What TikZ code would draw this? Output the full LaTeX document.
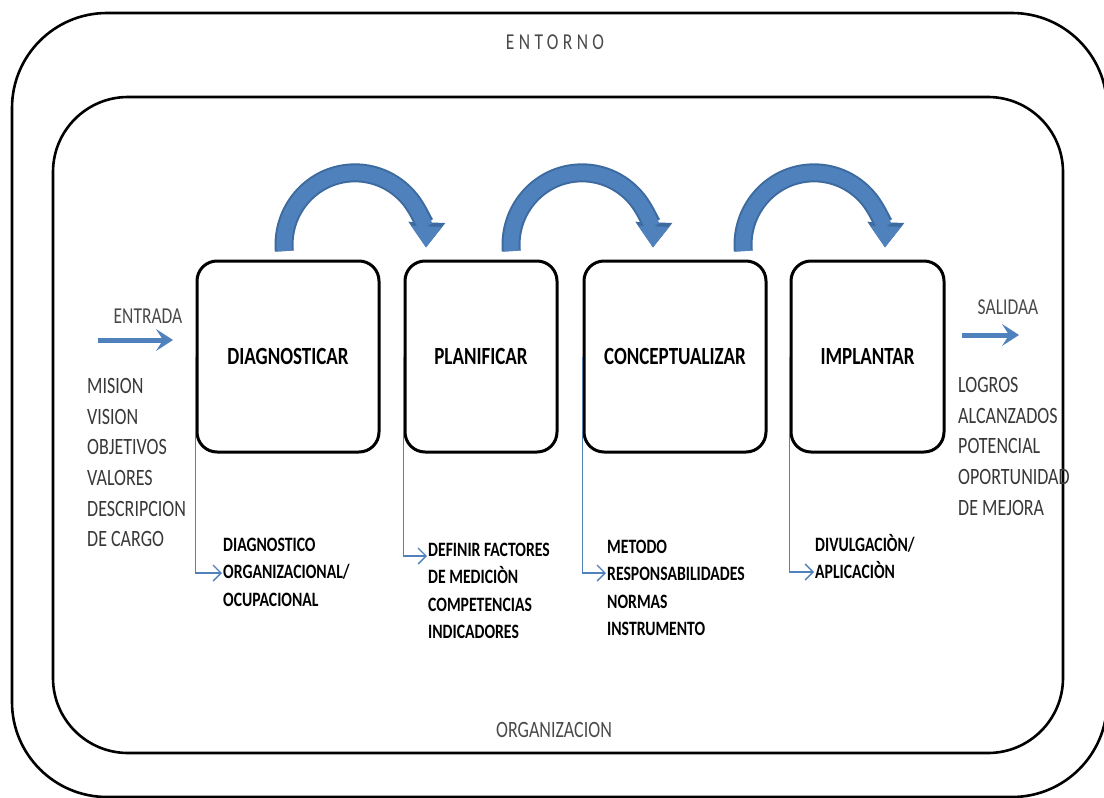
\documentclass[tikz,border=0pt]{standalone}
\usepackage{fontspec}
\setmainfont{Carlito}
\usepackage{graphicx}
\usetikzlibrary{arrows.meta}
\definecolor{flowblue}{HTML}{4F81BD}
\definecolor{flowedge}{HTML}{3D6B9F}
\definecolor{listgray}{HTML}{383838}
\definecolor{labelgray}{HTML}{4A4A4A}
% condensed look: stretch text vertically
\newcommand{\tallbox}[1]{\scalebox{1}[1.3]{#1}}
\newcommand{\lines}[1]{\tallbox{\begin{tabular}[t]{@{}l@{}}#1\end{tabular}}}

\begin{document}
\begin{tikzpicture}[x=1pt,y=-1pt,
  frame/.style={draw=black, line width=2.6pt},
  stepbox/.style={draw=black, line width=3pt, rounded corners=20pt,
    minimum height=191pt, inner sep=0pt,
    font=\fontsize{19}{19}\selectfont\bfseries},
  listtext/.style={anchor=base west, inner sep=0pt, text=listgray,
    font=\fontsize{18}{23.6}\selectfont},
  boldlist/.style={anchor=base west, inner sep=0pt, text=black,
    font=\fontsize{15.7}{21}\selectfont\bfseries},
  caption/.style={inner sep=0pt, text=labelgray, font=\fontsize{17.5}{17.5}\selectfont},
  flow/.style={draw=flowblue, line width=1.4pt,
    -{Straight Barb[length=8pt,width=16pt]}},
  bigarrow/.style={draw=flowblue, line width=5pt,
    -{Stealth[length=17pt,width=22pt,inset=7pt,line width=0pt]}},
  curvedge/.style={draw=flowedge, line width=19pt,
    -{Triangle[width=37pt,length=25pt,line width=0pt]}},
  curvefill/.style={draw=flowblue, line width=15pt,
    -{Triangle[width=31pt,length=21pt,line width=0pt]}}
]
\useasboundingbox (0,0) rectangle (1104,798);
\clip (0,0) rectangle (1104,798);
\fill[white] (0,0) rectangle (1104,798);

% environment and organisation frames
\draw[frame, rounded corners=95pt] (12,13) rectangle (1107,797);
\draw[frame, rounded corners=75pt] (53,97) rectangle (1063,753);

\node[caption] (entorno) at (555,42)
  {\tallbox{\addfontfeature{LetterSpace=25}ENTORNO}};
\node[caption, font=\fontsize{18}{18}\selectfont] (organizacion) at (554,730)
  {\tallbox{ORGANIZACION}};

% process steps
\node[stepbox, minimum width=182pt] (d1) at (288,356.5) {\tallbox{DIAGNOSTICAR}};
\node[stepbox, minimum width=152pt] (d2) at (481,356.5) {\tallbox{PLANIFICAR}};
\node[stepbox, minimum width=182pt] (d3) at (675,356.5) {\tallbox{CONCEPTUALIZAR}};
\node[stepbox, minimum width=153pt] (d4) at (867.5,356.5) {\tallbox{IMPLANTAR}};

% curved arrows between the steps
\foreach \cx in {355,582,814}{
  \draw[curvedge] (\cx-70.7,251.1) arc[start angle=175,end angle=362,x radius=71,y radius=72];
  \draw[curvefill] (\cx-70.7,251.1) arc[start angle=175,end angle=362,x radius=71,y radius=72];
}

% input side
\node[caption] (entrada) at (148,316) {\tallbox{ENTRADA}};
\coordinate (inA) at (98,340);
\coordinate (inB) at (173,340);
\draw[bigarrow] (inA) -- (inB);
\node[listtext] (inputs) at (87,393.5)
  {\lines{MISION\\VISION\\OBJETIVOS\\VALORES\\DESCRIPCION\\DE CARGO}};

% output side
\node[caption] (salida) at (1008,307) {\tallbox{SALIDAA}};
\coordinate (outA) at (962,335);
\coordinate (outB) at (1019,335);
\draw[bigarrow] (outA) -- (outB);
\node[listtext] (outputs) at (958,392.5)
  {\lines{LOGROS\\ALCANZADOS\\POTENCIAL\\OPORTUNIDAD\\DE MEJORA}};

% results of each step
\node[boldlist] (r1) at (223,551.5)
  {\lines{DIAGNOSTICO\\ORGANIZACIONAL/\\OCUPACIONAL}};
\node[boldlist] (r2) at (428,556.5)
  {\lines{DEFINIR FACTORES\\DE MEDICIÒN\\COMPETENCIAS\\INDICADORES}};
\node[boldlist] (r3) at (607,553.5)
  {\lines{METODO\\RESPONSABILIDADES\\NORMAS\\INSTRUMENTO}};
\node[boldlist] (r4) at (815,551.5)
  {\lines{DIVULGACIÒN/\\APLICACIÒN}};

\coordinate (e1) at (222,573);
\coordinate (e2) at (427,556);
\coordinate (e3) at (606,573);
\coordinate (e4) at (814,572);
\draw[flow] (d1.west) |- (e1);
\draw[flow] (d2.west) |- (e2);
\draw[flow] (d3.west) |- (e3);
\draw[flow] (d4.west) |- (e4);
\end{tikzpicture}
\end{document}
